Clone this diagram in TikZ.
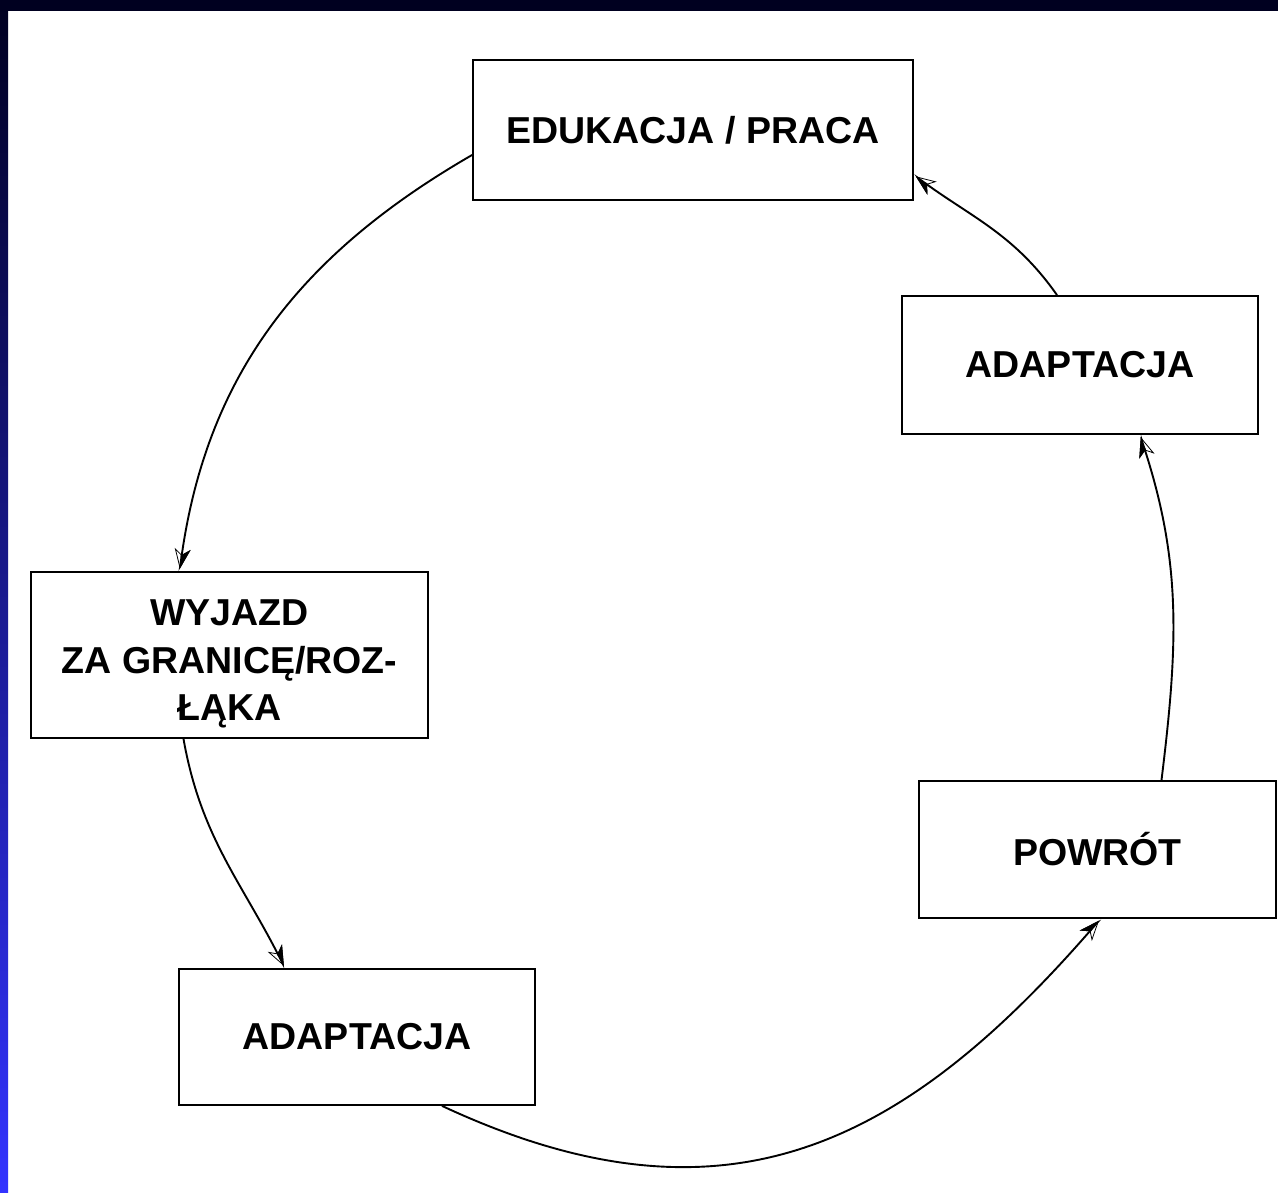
\documentclass[tikz,border=0pt]{standalone}
\usepackage{fontspec}
\setmainfont{Liberation Sans}
\usetikzlibrary{arrows.meta}
\definecolor{navyband}{RGB}{0,0,32}
\definecolor{brightblue}{RGB}{51,51,255}
\begin{document}
\begin{tikzpicture}[x=1pt,y=1pt,
  box/.style={draw, line width=1.8pt, inner sep=0pt, align=center,
    font=\fontsize{37.5}{47.5}\selectfont\bfseries},
  halftip/.style={-{Stealth[open,length=20pt,width=16pt,inset=6pt,line width=0.8pt,sep=-20pt]Stealth[harpoon,length=20pt,width=16pt,inset=6pt]}},
  arc/.style={line width=1.9pt, halftip}]
\useasboundingbox (0,0) rectangle (1278,1193);
\fill[white] (0,0) rectangle (1278,1193);
\shade[top color=navyband, bottom color=brightblue] (0,0) rectangle (8,1193);
\fill[navyband] (0,1182) rectangle (1278,1193);

\node[box, minimum width=440pt, minimum height=140pt] (edu) at (693,1063) {EDUKACJA / PRACA};
\node[box, minimum width=356pt, minimum height=138pt] (adr) at (1080,828) {ADAPTACJA};
\node[box, minimum width=397pt, minimum height=166pt] (wyj) at (229.5,538) {\rule{0pt}{44pt}WYJAZD\\ZA GRANICĘ/ROZ-\\ŁĄKA};
\node[box, minimum width=356pt, minimum height=136pt] (adb) at (357,156) {ADAPTACJA};
\node[box, minimum width=357pt, minimum height=137pt] (pow) at (1097.5,343.5) {POWRÓT};

\draw[arc] ([yshift=-25pt]edu.west) to[out=210,in=82] ([xshift=-50pt]wyj.north);
\draw[arc] ([xshift=-46pt]wyj.south) to[out=-80,in=117] ([xshift=-72pt]adb.north);
\draw[arc] ([xshift=85pt]adb.south) to[out=-25,in=-131,looseness=1.15] ([xshift=3pt]pow.south);
\draw[arc] ([xshift=64pt]pow.north) to[out=83,in=-72] ([xshift=60pt]adr.south);
\draw[arc] ([xshift=-23pt]adr.north) to[out=125,in=-36] ([yshift=-45pt]edu.east);
\end{tikzpicture}
\end{document}
